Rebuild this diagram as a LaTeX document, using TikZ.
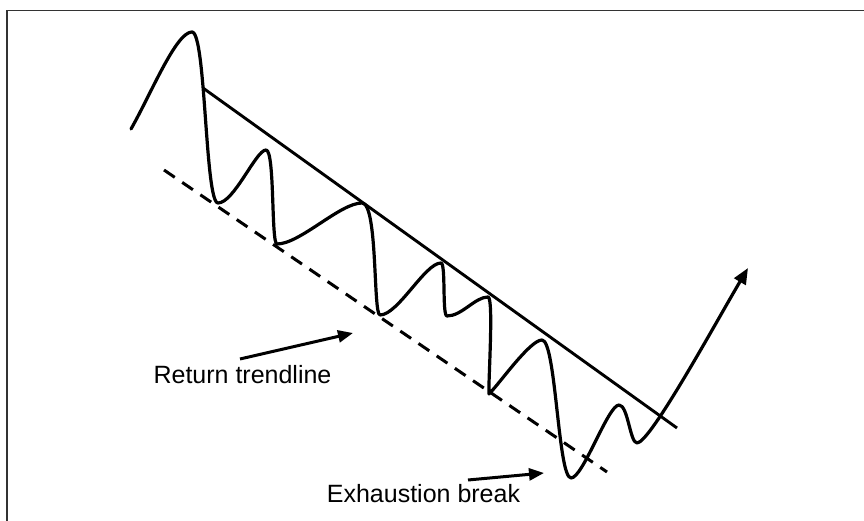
\documentclass[tikz,border=0pt]{standalone}
\usepackage{fontspec}
\setmainfont{Liberation Sans}
\usetikzlibrary{arrows.meta}
\begin{document}
\begin{tikzpicture}[x=1pt,y=1pt,
  wave/.style={line width=3.2pt, line join=round, line cap=round},
  trend/.style={line width=2.9pt},
  retline/.style={line width=3pt, dash pattern=on 13pt off 9pt},
  lbl/.style={font=\fontsize{25}{29}\selectfont, inner sep=0pt, anchor=base, text=black},
  pointer/.style={line width=3pt, -{Triangle[length=15pt,width=12pt]}},
  frameline/.style={line width=1.6pt, draw=black!80}
]
\useasboundingbox (0,0) rectangle (864,521);
% frame
\coordinate (fb) at (6.7,0);
\coordinate (ftl) at (6.7,510.5);
\coordinate (ftr) at (864,510.5);
\draw[frameline] (fb) -- (ftl) -- (ftr);

% wave points
\coordinate (S)  at (131,392);
\coordinate (P0) at (192,489);
\coordinate (T1) at (218,318);
\coordinate (P1) at (266,371);
\coordinate (T2) at (277,277);
\coordinate (P2) at (362,318);
\coordinate (T3) at (380,206);
\coordinate (P3) at (441,258);
\coordinate (T4) at (447,205);
\coordinate (P4) at (488,224);
\coordinate (T5) at (489,127);
\coordinate (P5) at (542,181);
\coordinate (T6) at (571,43);
\coordinate (P6) at (619,116);
\coordinate (T7) at (637,78);
\coordinate (tip) at (748,253);

% trendlines
\coordinate (A) at (203,433);
\coordinate (B) at (677,93);
\coordinate (C) at (164,351);
\coordinate (D) at (607,49);
\draw[trend] (A) -- (B);
\draw[retline] (C) -- (D);

% price wave
\draw[wave,-{Triangle[length=16pt,width=13pt]}]
  (S)  .. controls (151,427) and (176,489) .. (P0)
       .. controls (206,489) and (205,318) .. (T1)
       .. controls (234,318) and (256,371) .. (P1)
       .. controls (275,371) and (271,277) .. (T2)
       .. controls (300,277) and (340,318) .. (P2)
       .. controls (378,318) and (373,206) .. (T3)
       .. controls (398,206) and (425,258) .. (P3)
       .. controls (446,258) and (442,205) .. (T4)
       .. controls (462,205) and (475,224) .. (P4)
       .. controls (494,224) and (488,135) .. (T5)
       .. controls (500,138) and (530,181) .. (P5)
       .. controls (556,181) and (558,43) .. (T6)
       .. controls (583,43) and (608,116) .. (P6)
       .. controls (628,116) and (630,78) .. (T7)
       .. controls (650,78) and (715,197) .. (tip);

% labels
\node[lbl] (rt) at (242.5,137) {Return trendline};
\node[lbl] (eb) at (423.5,18) {Exhaustion break};
\coordinate (rtA) at (240,162);
\coordinate (rtB) at (353,188);
\coordinate (ebA) at (468,41);
\coordinate (ebB) at (544,48);
\draw[pointer] (rtA) -- (rtB);
\draw[pointer] (ebA) -- (ebB);
\end{tikzpicture}
\end{document}
